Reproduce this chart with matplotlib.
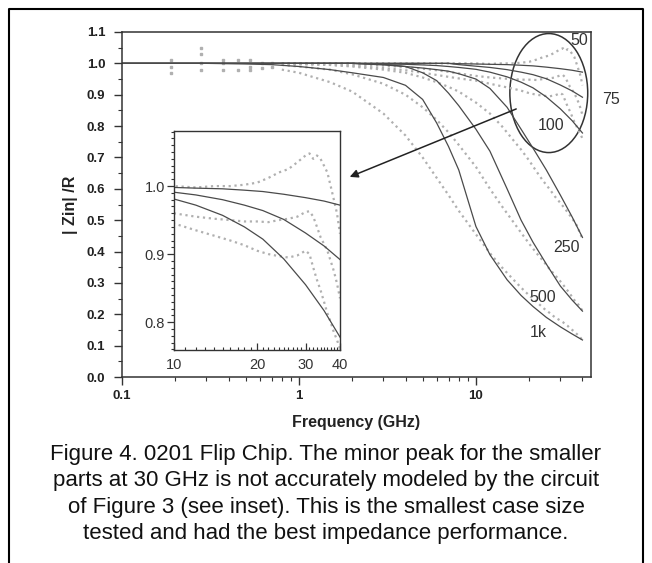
import numpy as np
import matplotlib
matplotlib.use('Agg')
import matplotlib.pyplot as plt
from matplotlib.patches import Ellipse
from matplotlib.lines import Line2D
from matplotlib.ticker import MultipleLocator, FixedLocator, NullFormatter, LogLocator

plt.rcParams['font.family'] = ['Liberation Sans', 'DejaVu Sans']

# model curves (solid lines)
f_model = [0.1, 0.2, 0.3, 0.5, 0.7, 1, 1.5, 2, 3, 4, 5, 6, 7, 8, 10, 12, 15, 18, 21, 25, 30, 35, 40]
m50 = [1, 1, 1, 1, 1, 1, 1, 1, 1, 1, 1, 1, 1, 0.999, 0.998, 0.997, 0.996, 0.994, 0.992, 0.988, 0.983, 0.978, 0.972]
m75 = [1, 1, 1, 1, 1, 1, 1, 1, 1, 1, 1, 1, 1, 0.996, 0.991, 0.987, 0.980, 0.972, 0.964, 0.951, 0.931, 0.912, 0.892]
m100 = [1, 1, 1, 1, 1, 1, 1, 1, 0.998, 0.997, 0.995, 0.993, 0.990, 0.987, 0.981, 0.972, 0.957, 0.940, 0.922, 0.893, 0.855, 0.817, 0.778]
m250 = [1, 1, 1, 1, 1, 1, 1, 1, 0.995, 0.99, 0.985, 0.98, 0.975, 0.967, 0.95, 0.92, 0.86, 0.79, 0.73, 0.66, 0.58, 0.51, 0.445]
m500 = [1, 1, 1, 1, 1, 1, 1, 1, 0.997, 0.99, 0.97, 0.945, 0.905, 0.865, 0.79, 0.72, 0.60, 0.50, 0.43, 0.36, 0.29, 0.245, 0.21]
m1k = [1, 1, 1, 0.998, 0.996, 0.99, 0.98, 0.97, 0.955, 0.93, 0.885, 0.81, 0.735, 0.66, 0.48, 0.39, 0.31, 0.26, 0.225, 0.19, 0.16, 0.137, 0.118]

# measured data (grey dots)
f_data = [0.8, 1, 1.5, 2, 3, 4, 5, 6, 7, 8, 10, 12, 14, 16, 18, 20, 22, 24, 26, 28, 30, 31, 32, 33, 34, 35, 36, 37, 38, 39, 40]
d50 = [1, 1, 1, 1, 1, 1, 1, 1, 1, 1, 1.0, 0.998, 1.0, 1.0, 1.002, 1.005, 1.012, 1.02, 1.025, 1.035, 1.045, 1.048, 1.04, 1.045, 1.04, 1.03, 1.02, 1.0, 0.98, 0.96, 0.93]
d75 = [1.0, 1.0, 0.998, 0.997, 0.993, 0.988, 0.983, 0.978, 0.973, 0.968, 0.96, 0.955, 0.952, 0.95, 0.948, 0.948, 0.947, 0.95, 0.952, 0.955, 0.962, 0.963, 0.955, 0.94, 0.925, 0.915, 0.905, 0.89, 0.875, 0.857, 0.835]
d100 = [0.999, 0.998, 0.995, 0.992, 0.985, 0.978, 0.97, 0.963, 0.957, 0.952, 0.945, 0.935, 0.927, 0.92, 0.913, 0.905, 0.9, 0.897, 0.895, 0.898, 0.905, 0.9, 0.88, 0.862, 0.847, 0.83, 0.813, 0.8, 0.785, 0.774, 0.76]
d250 = [0.999, 0.998, 0.995, 0.99, 0.98, 0.97, 0.955, 0.94, 0.925, 0.91, 0.875, 0.84, 0.8, 0.76, 0.725, 0.69, 0.655, 0.625, 0.6, 0.575, 0.555, 0.545, 0.535, 0.525, 0.515, 0.505, 0.495, 0.485, 0.47, 0.455, 0.44]
d500 = [0.995, 0.99, 0.98, 0.965, 0.935, 0.9, 0.86, 0.82, 0.78, 0.74, 0.67, 0.6, 0.545, 0.5, 0.46, 0.425, 0.395, 0.37, 0.345, 0.325, 0.305, 0.295, 0.285, 0.275, 0.265, 0.255, 0.245, 0.238, 0.23, 0.22, 0.212]
d1k = [0.98, 0.97, 0.94, 0.91, 0.84, 0.77, 0.7, 0.635, 0.58, 0.53, 0.455, 0.395, 0.35, 0.315, 0.285, 0.26, 0.24, 0.22, 0.205, 0.19, 0.18, 0.175, 0.168, 0.163, 0.155, 0.15, 0.145, 0.138, 0.132, 0.125, 0.118]

# scattered low-frequency points
f_low = [0.19, 0.19, 0.19, 0.28, 0.28, 0.28, 0.28, 0.37, 0.37, 0.37, 0.45, 0.45, 0.53, 0.53, 0.53, 0.62, 0.62, 0.7, 0.7]
v_low = [0.97, 0.99, 1.01, 0.98, 1.0, 1.03, 1.05, 0.98, 1.0, 1.01, 0.98, 1.01, 0.98, 0.99, 1.01, 0.985, 1.0, 0.99, 1.0]

models = [m50, m75, m100, m250, m500, m1k]
datas = [d50, d75, d100, d250, d500, d1k]
labels = ['50', '75', '100', '250', '500', '1k']
label_pos = [(0.974, 0.974), (1.023, 0.803), (0.915, 0.728), (0.947, 0.374), (0.898, 0.229), (0.887, 0.130)]

line_c = '#4a4a4a'
dot_c = '#b0b0b0'

fig = plt.figure(figsize=(6.52, 5.63), dpi=100)

# outer frame (open at the bottom)
fig.add_artist(Line2D([9/652, 9/652, 643/652, 643/652], [0, 1-9/563, 1-9/563, 0],
                      transform=fig.transFigure, color='black', lw=1.5))

ax = fig.add_axes([122/652, 1-377/563, 469/652, 345/563])
ax.set_xscale('log')
ax.set_xlim(0.1, 44.7)
ax.set_ylim(0, 1.1)
for d in datas:
    ax.plot(f_data, d, color=dot_c, ls=':', lw=1.6)
ax.plot(f_low, v_low, ls='none', marker='s', ms=1.6, color=dot_c)
for m in models:
    ax.plot(f_model, m, color=line_c, lw=0.9)

ax.set_yticks(np.arange(0, 1.11, 0.1))
ax.yaxis.set_minor_locator(MultipleLocator(0.05))
ax.set_yticklabels(['%.1f' % v for v in np.arange(0, 1.11, 0.1)])
ax.set_xticks([0.1, 1, 10])
ax.set_xticklabels(['0.1', '1', '10'])
ax.xaxis.set_minor_locator(LogLocator(base=10, subs=np.arange(2, 10)))
ax.xaxis.set_minor_formatter(NullFormatter())
ax.tick_params(which='major', length=6, width=1, labelsize=9.5, color='#333333')
ax.tick_params(axis='y', which='major', pad=6)
ax.tick_params(which='minor', length=3, width=0.8, color='#333333')
for lab in ax.get_xticklabels() + ax.get_yticklabels():
    lab.set_fontweight('bold')
    lab.set_color('#222222')
for s in ax.spines.values():
    s.set_color('#333333')
    s.set_linewidth(1.1)
ax.set_xlabel('Frequency (GHz)', fontsize=11.5, fontweight='bold', color='#222222', labelpad=9)
ax.set_ylabel('| Zin| /R', fontsize=11.5, fontweight='bold', color='#222222', labelpad=6)

for lab, (lx, ly) in zip(labels, label_pos):
    ax.text(lx, ly, lab, transform=ax.transAxes, fontsize=11.5, color='#333333',
            ha='left' if lab == '75' else 'center', va='center', clip_on=False)

ax.add_patch(Ellipse((0.910, 0.823), 0.166, 0.345, transform=ax.transAxes,
                     fill=False, ec='#333333', lw=1.1))
ax.annotate('', xy=(0.480, 0.577), xytext=(0.846, 0.780), xycoords='axes fraction',
            arrowprops=dict(arrowstyle='-|>', color='#222222', lw=1.1, mutation_scale=12))

# inset
ins = fig.add_axes([174/652, 1-350/563, 166/652, 219/563])
ins.set_xscale('log')
ins.set_xlim(10, 40)
ins.set_ylim(0.759, 1.081)
for d in datas[:3]:
    ins.plot(f_data, d, color=dot_c, ls=':', lw=1.6)
for m in models[:3]:
    ins.plot(f_model, m, color=line_c, lw=0.9)
ins.xaxis.set_major_locator(FixedLocator([10, 20, 30, 40]))
ins.xaxis.set_minor_locator(MultipleLocator(1))
ins.xaxis.set_minor_formatter(NullFormatter())
ins.set_xticklabels(['10', '20', '30', '40'])
ins.set_yticks([0.8, 0.9, 1.0])
ins.set_yticklabels(['0.8', '0.9', '1.0'])
ins.yaxis.set_minor_locator(MultipleLocator(0.01))
ins.tick_params(axis='x', which='both', direction='in')
ins.tick_params(which='major', length=5, width=0.9, labelsize=10.5, color='#333333', labelcolor='#333333')
ins.tick_params(axis='y', which='major', pad=1.5)
ins.tick_params(axis='x', which='major', pad=6)
ins.tick_params(which='minor', length=2.5, width=0.8, color='#333333')
for s in ins.spines.values():
    s.set_color('#333333')
    s.set_linewidth(1.0)

caption = ('Figure 4. 0201 Flip Chip. The minor peak for the smaller\n'
           'parts at 30 GHz is not accurately modeled by the circuit\n'
           'of Figure 3 (see inset). This is the smallest case size\n'
           'tested and had the best impedance performance.')
fig.text(0.5, 1-494/563, caption, ha='center', va='center', fontsize=16,
         color='#111111', linespacing=1.33)

fig.savefig('out.png', dpi=100)
